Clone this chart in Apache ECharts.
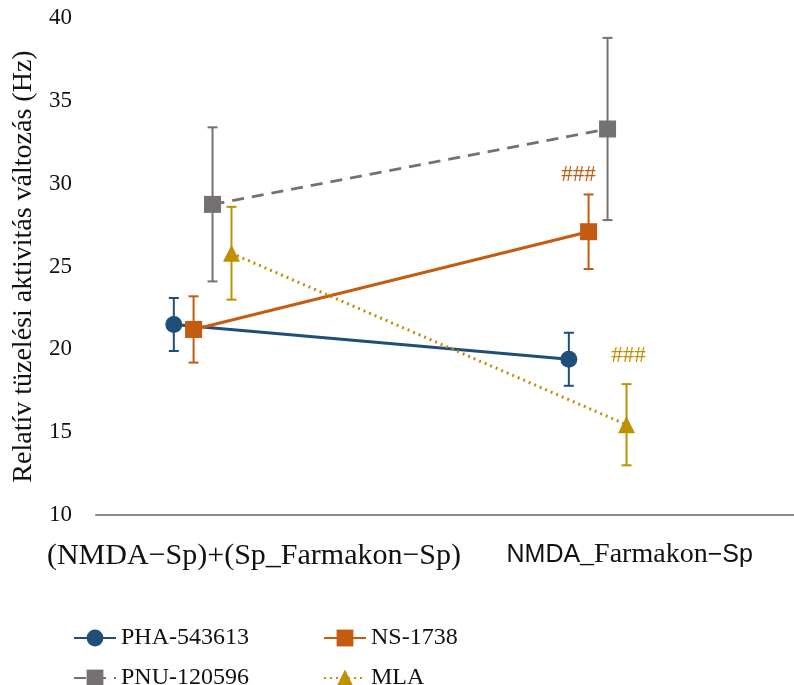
<!DOCTYPE html>
<html>
<head>
<meta charset="utf-8">
<script src="https://cdn.jsdelivr.net/npm/echarts@6/dist/echarts.min.js"></script>
<style>
  html, body { margin: 0; padding: 0; background: #fff; }
  #chart { width: 794px; height: 685px; }
</style>
</head>
<body>
<div id="chart"></div>
<script>
// data
const categories = ['(NMDA\u2212Sp)+(Sp_Farmakon\u2212Sp)', 'NMDA_Farmakon\u2212Sp'];
const seriesNames = ['PHA-543613', 'NS-1738', 'PNU-120596', 'MLA'];

const phaMean = [21.5, 19.4];
const phaErr = [1.6, 1.6];
const nsMean = [21.2, 27.1];
const nsErr = [2.0, 2.25];
const pnuMean = [28.75, 33.3];
const pnuErr = [4.65, 5.5];
const mlaMean = [25.8, 15.45];
const mlaErr = [2.8, 2.45];

const phaNote = ['', ''];
const nsNote = ['', '###'];
const pnuNote = ['', ''];
const mlaNote = ['', '###'];

const yTicks = [10, 15, 20, 25, 30, 35, 40];

// horizontal offsets of each series inside a category group
const offsets = [-0.076, -0.026, 0.022, 0.07];
const colors = ['#1F4E79', '#C55A11', '#767171', '#BF9000'];

const chart = echarts.init(document.getElementById('chart'));

function points(mean, k) {
  return mean.map((v, i) => [i + offsets[k], v]);
}
function bars(mean, err, note, k) {
  return mean.map((v, i) => [i + offsets[k], v - err[i], v + err[i], note[i]]);
}

function renderErr(color, noteDx, noteDy) {
  return function (params, api) {
    const x = api.value(0);
    const lo = api.coord([x, api.value(1)]);
    const hi = api.coord([x, api.value(2)]);
    const cap = 5;
    const style = { stroke: color, lineWidth: 2 };
    const children = [
      { type: 'line', shape: { x1: lo[0], y1: lo[1], x2: hi[0], y2: hi[1] }, style: style },
      { type: 'line', shape: { x1: lo[0] - cap, y1: lo[1], x2: lo[0] + cap, y2: lo[1] }, style: style },
      { type: 'line', shape: { x1: hi[0] - cap, y1: hi[1], x2: hi[0] + cap, y2: hi[1] }, style: style }
    ];
    const note = api.value(3);
    if (note) {
      children.push({
        type: 'text',
        style: {
          text: note, x: hi[0] + noteDx, y: hi[1] + noteDy,
          fill: color, font: '23px "Liberation Serif"',
          align: 'center', verticalAlign: 'middle'
        }
      });
    }
    return { type: 'group', children: children };
  };
}

const lineSeries = [
  { name: seriesNames[0], data: points(phaMean, 0), symbol: 'circle', symbolSize: 17, type: 'solid' },
  { name: seriesNames[1], data: points(nsMean, 1), symbol: 'rect', symbolSize: 17, type: 'solid' },
  { name: seriesNames[2], data: points(pnuMean, 2), symbol: 'rect', symbolSize: 17, type: [12, 8] },
  { name: seriesNames[3], data: points(mlaMean, 3), symbol: 'triangle', symbolSize: 17, type: [2, 4] }
].map((s, k) => ({
  name: s.name,
  type: 'line',
  data: s.data,
  symbol: s.symbol,
  symbolSize: s.symbolSize,
  z: 3,
  itemStyle: { color: colors[k] },
  lineStyle: { color: colors[k], width: 3, type: s.type },
  emphasis: { disabled: true }
}));

const errSeries = [
  bars(phaMean, phaErr, phaNote, 0),
  bars(nsMean, nsErr, nsNote, 1),
  bars(pnuMean, pnuErr, pnuNote, 2),
  bars(mlaMean, mlaErr, mlaNote, 3)
].map((d, k) => ({
  type: 'custom',
  name: seriesNames[k] + '-err',
  data: d,
  z: 2,
  encode: { x: 0, y: [1, 2] },
  renderItem: k === 3 ? renderErr(colors[k], 2, -28) : renderErr(colors[k], -10, -19),
  silent: true
}));

function legendAt(name, left, top) {
  return {
    data: [name],
    left: left, top: top,
    itemWidth: 42, itemHeight: 21,
    textStyle: { fontFamily: 'Liberation Serif', fontSize: 24, color: '#111' },
    selectedMode: false
  };
}

chart.setOption({
  animation: false,
  textStyle: { fontFamily: 'Liberation Serif' },
  grid: { left: 96, right: 0, top: 18, bottom: 170 },
  legend: [
    legendAt(seriesNames[0], 68, 621),
    legendAt(seriesNames[1], 318, 621),
    legendAt(seriesNames[2], 68, 661),
    legendAt(seriesNames[3], 318, 661)
  ],
  xAxis: {
    type: 'value',
    min: -0.273,
    max: 1.494,
    splitLine: { show: false },
    axisTick: { show: false },
    axisLine: { show: true, onZero: false, lineStyle: { color: '#8c8c8c', width: 2 } },
    axisLabel: {
      customValues: [0.127, 1.078],
      margin: 26,
      color: '#111',
      fontFamily: 'Liberation Serif',
      fontSize: 30,
      formatter: function (v) {
        const i = Math.round(v);
        if (i === 1) {
          return '{s|NMDA}{r|_Farmakon}{s|\u2212Sp}';
        }
        return categories[i];
      },
      rich: {
        s: { fontFamily: 'Liberation Sans', fontSize: 25, color: '#111' },
        r: { fontFamily: 'Liberation Serif', fontSize: 28, color: '#111' }
      }
    }
  },
  yAxis: {
    type: 'value',
    min: yTicks[0],
    max: yTicks[yTicks.length - 1],
    interval: 5,
    name: 'Relatív tüzelési aktivitás változás (Hz)',
    nameLocation: 'middle',
    nameGap: 57,
    nameTextStyle: { fontFamily: 'Liberation Serif', fontSize: 28, color: '#111' },
    axisLine: { show: false },
    axisTick: { show: false },
    splitLine: { show: false },
    axisLabel: { margin: 24, color: '#111', fontFamily: 'Liberation Serif', fontSize: 23 }
  },
  series: errSeries.concat(lineSeries)
});
</script>
</body>
</html>
